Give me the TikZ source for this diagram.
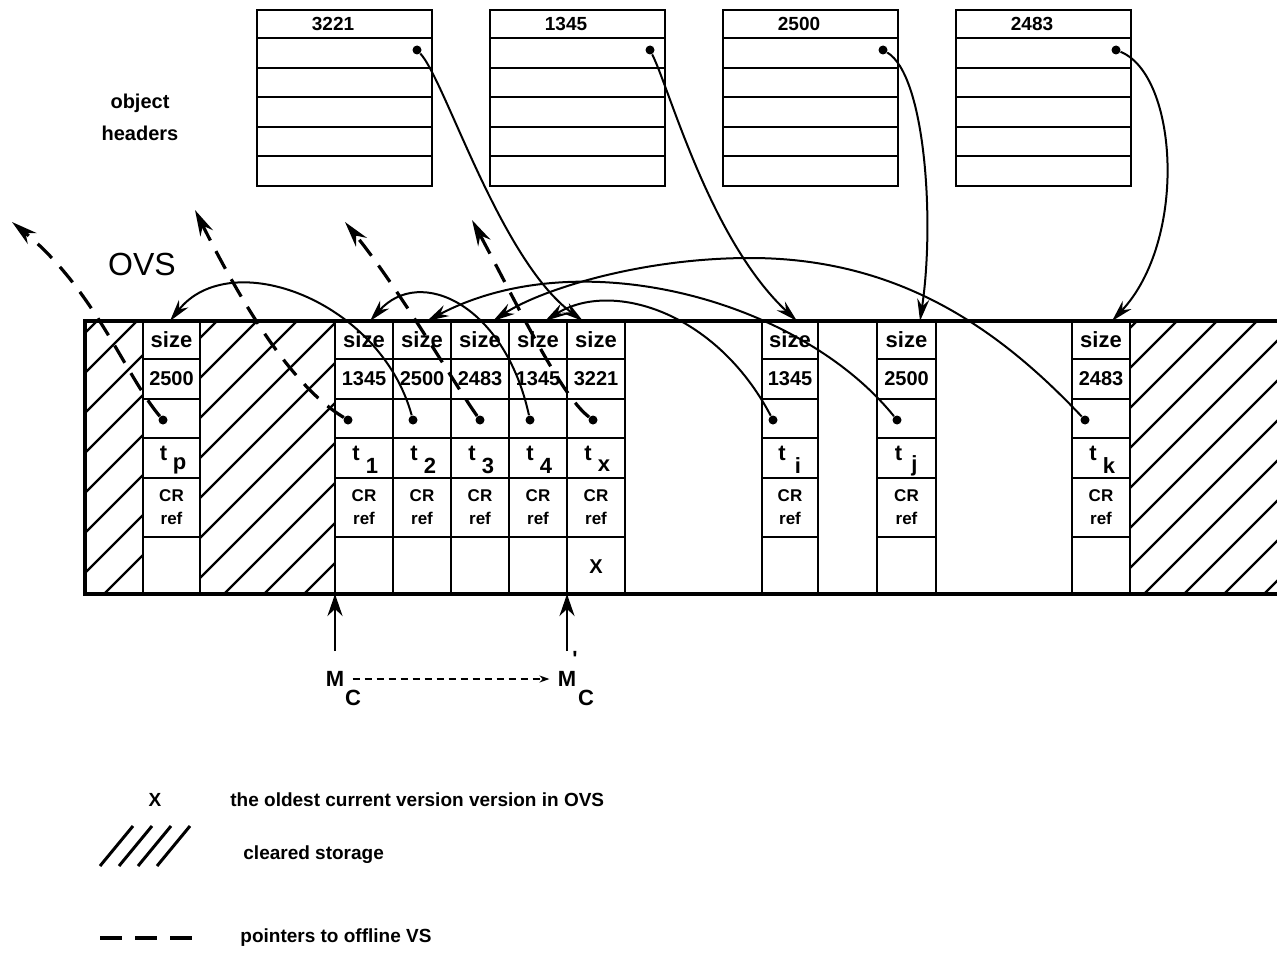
\documentclass[tikz,border=0pt]{standalone}
\usepackage{fontspec}
\setmainfont{Liberation Sans}
\usetikzlibrary{arrows.meta}

\begin{document}
\begin{tikzpicture}[x=0.5pt,y=-0.5pt,
  cellbox/.style={line width=1.2pt},
  hatchline/.style={line width=1.2pt},
  ptrdot/.style={circle,fill,inner sep=0pt,minimum size=4.5pt},
  ptr/.style={line width=1pt,-{Stealth[length=11pt,width=6pt]}},
  offl/.style={line width=1.6pt,dash pattern=on 10pt off 6pt,-{Stealth[length=13pt,width=7pt]}},
  marker/.style={line width=1.4pt,-{Stealth[length=11pt,width=7.5pt]}},
  dotarrow/.style={line width=1pt,dash pattern=on 3.5pt off 2.5pt,-{Stealth[length=5pt,width=3.5pt]}},
  sizelbl/.style={font=\fontsize{11}{12}\selectfont\bfseries,inner sep=0pt},
  numlbl/.style={font=\fontsize{10}{11}\selectfont\bfseries,inner sep=0pt},
  tlbl/.style={font=\fontsize{11}{12}\selectfont\bfseries,inner sep=0pt},
  crlbl/.style={font=\fontsize{8.5}{11.5}\selectfont\bfseries,align=center,inner sep=0pt},
  hdrlbl/.style={font=\fontsize{9.5}{11}\selectfont\bfseries,inner sep=0pt},
  mlbl/.style={font=\fontsize{11}{12}\selectfont\bfseries,inner sep=0pt},
  notelbl/.style={font=\fontsize{9.5}{11}\selectfont\bfseries,inner sep=0pt}]
  \useasboundingbox (0,0) rectangle (1277,974);

  \foreach \h/\bx in {3221/257,1345/490,2500/723,2483/956}{
    \draw[cellbox] (\bx,10) rectangle (\bx+175,186);
    \foreach \y in {38,68,97,127,156}
      \draw[cellbox] (\bx,\y) -- (\bx+175,\y);
    \node[hdrlbl] (hl\h) at (\bx+76,24) {\h};
    \node[ptrdot] (hd\h) at (\bx+160,50) {};
  }
  \node[font=\fontsize{10}{16}\selectfont\bfseries,align=center] (objhdr) at (140,117) {object\\headers};
  \node[font=\fontsize{16}{18}\selectfont,inner sep=0pt] (ovs) at (142,264) {OVS};

  \begin{scope}
    \clip (85,321) rectangle (143,594) (200,321) rectangle (335,594) (1130,321) rectangle (1277,594);
    \foreach \a in {97,137,...,1577}
      \draw[hatchline] (\a,321) -- ++(-273,273);
  \end{scope}
  \foreach \l/\r in {143/200,335/625,762/818,877/936,1072/1130}{
    \draw[cellbox] (\l,321) rectangle (\r,594);
    \foreach \y in {359,399,438,478,537}
      \draw[cellbox] (\l,\y) -- (\r,\y);
  }
  \foreach \v in {393,451,509,567}
    \draw[cellbox] (\v,321) -- (\v,594);
  \draw[line width=1.6pt] (1277,321) -- (85,321) -- (85,594) -- (1277,594);

  \foreach \s/\c/\n/\px in {p/171.5/2500/163,1/364/1345/348,2/422/2500/413,3/480/2483/480,4/538/1345/530,x/596/3221/593,i/790/1345/773,j/906.5/2500/897,k/1101/2483/1085}{
    \node[sizelbl] (size\s) at (\c,340) {size};
    \node[numlbl] (num\s) at (\c,379) {\n};
    \node[ptrdot] (d\s) at (\px,420) {};
    \node[tlbl] (t\s) at (\c-8,453) {t};
    \node[tlbl] (sub\s) at (\c+8,466) {\s};
    \node[crlbl] (cr\s) at (\c,507) {CR\\ref};
  }
  \node[numlbl] (oldest) at (596,567) {X};

  \coordinate (ap) at (170,321);
  \coordinate (a1) at (370,321);
  \coordinate (a2) at (427,321);
  \coordinate (a3) at (493,321);
  \coordinate (a4) at (545,321);
  \coordinate (ax) at (583,321);
  \coordinate (ai) at (797,321);
  \coordinate (aj) at (920,321);
  \coordinate (ak) at (1112,321);
  \coordinate (o1) at (12,222);
  \coordinate (o2) at (195,210);
  \coordinate (o3) at (345,222);
  \coordinate (o4) at (472,220);

  \draw[ptr] (hd3221) .. controls (445,80) and (500,260) .. (ax);
  \draw[ptr] (hd1345) .. controls (670,90) and (710,240) .. (ai);
  \draw[ptr] (hd2500) .. controls (925,75) and (935,220) .. (aj);
  \draw[ptr] (hd2483) .. controls (1178,75) and (1188,240) .. (ak);

  \draw[ptr] (d2) .. controls (380,300) and (230,245) .. (ap);
  \draw[ptr] (d4) .. controls (505,305) and (420,265) .. (a1);
  \draw[ptr] (di) .. controls (715,310) and (610,280) .. (a4);
  \draw[ptr] (dj) .. controls (800,300) and (580,240) .. (a2);
  \draw[ptr] (dk) .. controls (1000,330) and (900,258) .. (750,258) .. controls (640,258) and (540,290) .. (a3);

  \draw[offl] (dp) .. controls (125,375) and (95,290) .. (o1);
  \draw[offl] (d1) .. controls (290,385) and (240,300) .. (o2);
  \draw[offl] (d3) .. controls (455,385) and (400,290) .. (o3);
  \draw[offl] (dx) .. controls (560,395) and (515,300) .. (o4);

  \node[mlbl] (mc) at (335,679) {M};
  \node[mlbl] (mcs) at (353,698) {C};
  \node[mlbl] (mcp) at (567,679) {M};
  \node[mlbl] (mcps) at (586,698) {C};
  \node[mlbl] (prime) at (575,659) {\textquotesingle};
  \coordinate (mctop) at (335,594);
  \coordinate (mcptop) at (567,594);
  \draw[marker] ([yshift=10pt]mc.north) -- (mctop);
  \draw[marker] ([yshift=10pt]mcp.north) -- (mcptop);
  \draw[dotarrow] ([xshift=4pt]mc.east) -- ([xshift=-4pt]mcp.west);

  \node[notelbl] (lx) at (155,800) {X};
  \node[notelbl,anchor=west] (lxt) at (230,800) {the oldest current version version in OVS};
  \foreach \k in {0,...,3}
    \draw[line width=1.5pt] (100+19*\k,866) -- (133+19*\k,826);
  \node[notelbl,anchor=west] (lhatch) at (243,855) {cleared storage};
  \draw[line width=2pt,dash pattern=on 11pt off 6.5pt] (100,938) -- (192,938);
  \node[notelbl,anchor=west] (ldash) at (240,938) {pointers to offline VS};
\end{tikzpicture}
\end{document}
